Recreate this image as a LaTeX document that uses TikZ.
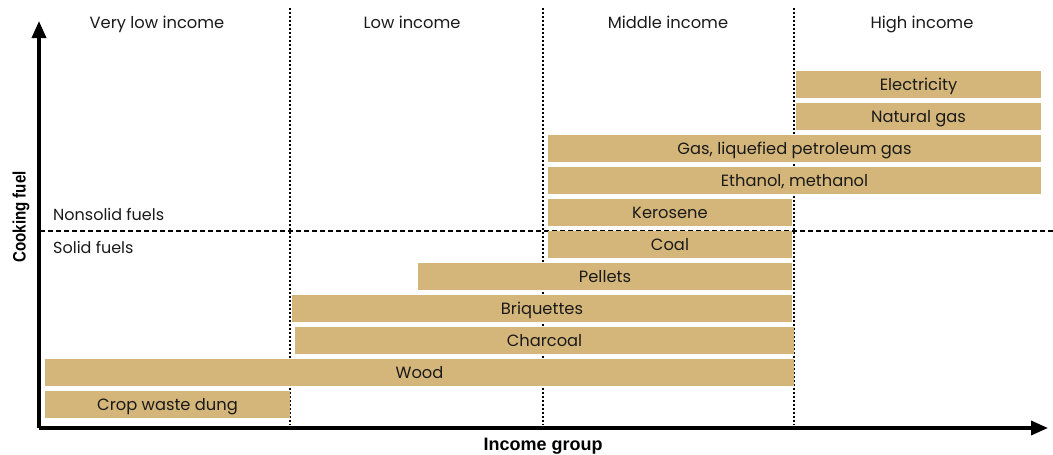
\documentclass[tikz,border=0pt]{standalone}
\usepackage{fontspec}
\setmainfont{Poppins}
\newfontfamily\boldlab{Liberation Sans}[BoldFont={Liberation Sans Bold}]
\usetikzlibrary{arrows.meta}
\definecolor{barfill}{HTML}{D5B67A}
\definecolor{txt}{HTML}{1A1A1A}
\tikzset{
  fuelbar/.style={fill=barfill, draw=none, minimum height=27pt, inner sep=0pt, text height=11pt, text depth=0pt, text=txt, font=\fontsize{16.3}{18}\selectfont},
  coltitle/.style={text=txt, font=\fontsize{16.3}{18}\selectfont, inner sep=0pt, anchor=base},
  sidelab/.style={text=txt, font=\fontsize{16}{18}\selectfont, inner sep=0pt, anchor=base west},
  axislab/.style={text=black, font=\boldlab\bfseries\fontsize{18}{20}\selectfont, inner sep=0pt},
  axisline/.style={line width=3.5pt, -{Triangle[length=17pt,width=14pt]}},
  colsep/.style={line width=2pt, dash pattern=on 2pt off 2pt},
  fuelsep/.style={line width=1.6pt, dash pattern=on 5pt off 3pt}
}
\begin{document}
\begin{tikzpicture}[x=1pt,y=-1pt]
\useasboundingbox (0,0) rectangle (1053,455);
% column separators
\coordinate (s1t) at (290,8); \coordinate (s1b) at (290,425);
\coordinate (s2t) at (543,8); \coordinate (s2b) at (543,425);
\coordinate (s3t) at (794,8); \coordinate (s3b) at (794,425);
\draw[colsep] (s1t) -- (s1b);
\draw[colsep] (s2t) -- (s2b);
\draw[colsep] (s3t) -- (s3b);
% solid / nonsolid separator
\coordinate (dl) at (40,231); \coordinate (dr) at (1053,231);
\draw[fuelsep] (dl) -- (dr);
% bars
\node[fuelbar, minimum width=245pt] (elec) at (918.5,84.5) {Electricity};
\node[fuelbar, minimum width=245pt] (natgas) at (918.5,116.5) {Natural gas};
\node[fuelbar, minimum width=493pt] (lpg) at (794.5,148.5) {Gas, liquefied petroleum gas};
\node[fuelbar, minimum width=493pt] (eth) at (794.5,180.5) {Ethanol, methanol};
\node[fuelbar, minimum width=244pt] (ker) at (670,212.5) {Kerosene};
\node[fuelbar, minimum width=244pt] (coal) at (670,244.5) {Coal};
\node[fuelbar, minimum width=374pt] (pel) at (605,276.5) {Pellets};
\node[fuelbar, minimum width=500pt] (briq) at (542,308.5) {Briquettes};
\node[fuelbar, minimum width=499pt] (char) at (544.5,340.5) {Charcoal};
\node[fuelbar, minimum width=749pt] (wood) at (419.5,372.5) {Wood};
\node[fuelbar, minimum width=245pt] (crop) at (167.5,404.5) {Crop waste dung};
% column titles
\node[coltitle] (t1) at (157,28.5) {Very low income};
\node[coltitle] (t2) at (412,28.5) {Low income};
\node[coltitle] (t3) at (668,28.5) {Middle income};
\node[coltitle] (t4) at (922,28.5) {High income};
% side labels
\node[sidelab] (nonsolid) at (53,220) {Nonsolid fuels};
\node[sidelab] (solid) at (53,253) {Solid fuels};
% axes
\coordinate (o) at (39,428);
\coordinate (ytip) at (39,21);
\coordinate (xtip) at (1048,428);
\draw[axisline] (o) -- (ytip);
\draw[axisline] (o) -- (xtip);
\node[axislab, rotate=90] (ylab) at (21,217) {\scalebox{0.84}[1]{Cooking fuel}};
\node[axislab, anchor=base] (xlab) at (543,450) {Income group};
\end{tikzpicture}
\end{document}
